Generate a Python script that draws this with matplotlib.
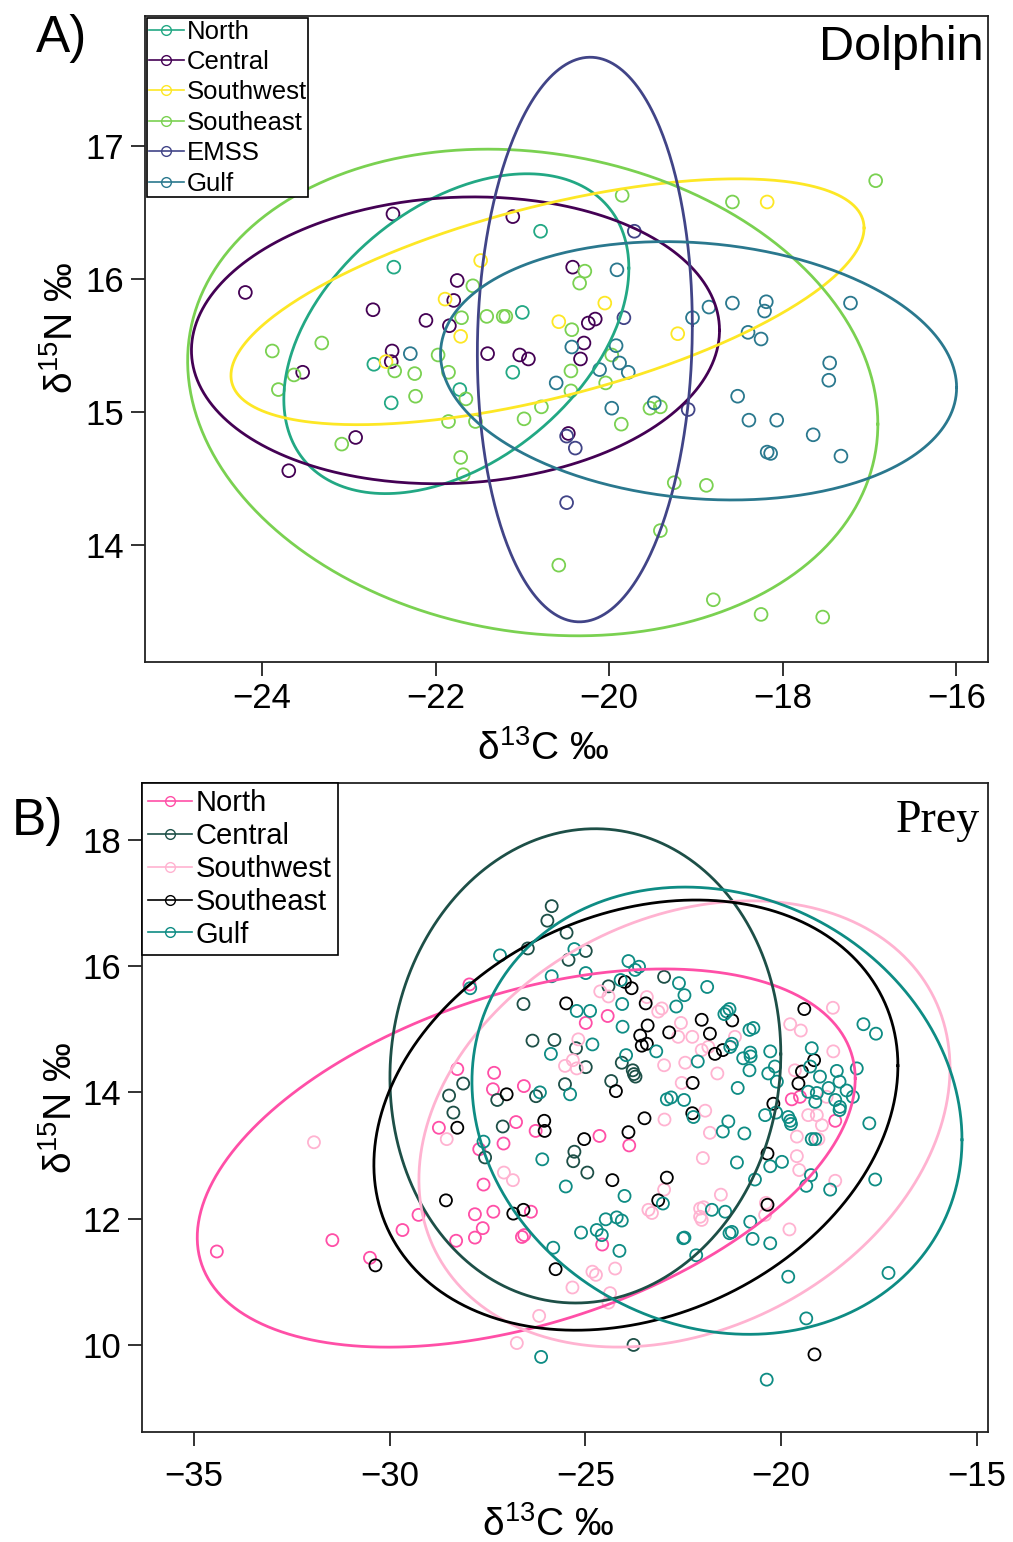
import numpy as np
import matplotlib
matplotlib.use('Agg')
import matplotlib.pyplot as plt
from matplotlib.lines import Line2D

plt.rcParams['font.family'] = ['Liberation Sans', 'DejaVu Sans']
plt.rcParams['mathtext.fontset'] = 'custom'
plt.rcParams['mathtext.rm'] = 'Liberation Sans'
plt.rcParams['mathtext.default'] = 'rm'

# ---------------- Panel A: Dolphin ----------------
A_groups = ['North', 'Central', 'Southwest', 'Southeast', 'EMSS', 'Gulf']
A_colors = ['#22A884', '#440154', '#FDE725', '#7AD151', '#414487', '#2A788E']

A_north_x = [-20.79, -22.48, -21.00, -22.51, -21.72, -21.11, -22.71]
A_north_y = [16.36, 16.09, 15.75, 15.07, 15.17, 15.30, 15.36]

A_central_x = [-24.19, -22.49, -21.11, -21.75, -21.79, -22.72, -22.11, -20.42, -23.53, -22.50, -22.51,
               -21.40, -21.03, -20.93, -20.24, -20.16, -20.29, -20.33, -22.92, -23.69, -20.47, -21.84]
A_central_y = [15.90, 16.49, 16.47, 15.99, 15.84, 15.77, 15.69, 16.09, 15.30, 15.46, 15.38,
               15.44, 15.43, 15.40, 15.67, 15.70, 15.52, 15.40, 14.81, 14.56, 14.84, 15.65]

A_sw_x = [-21.48, -21.89, -20.58, -20.05, -18.18, -19.21, -21.71, -22.57]
A_sw_y = [16.14, 15.85, 15.68, 15.82, 16.58, 15.59, 15.57, 15.38]

A_se_x = [-16.93, -18.58, -19.85, -20.28, -20.34, -21.57, -21.70, -21.41, -21.22, -21.19, -23.88,
          -23.31, -23.63, -23.81, -23.08, -22.47, -22.24, -22.23, -21.97, -21.85, -21.65, -21.85,
          -21.54, -21.71, -21.68, -20.98, -20.78, -20.44, -20.44, -20.43, -19.97, -20.04, -19.53,
          -19.41, -19.86, -19.25, -18.88, -19.41, -20.58, -18.80, -18.25, -17.54]
A_se_y = [16.74, 16.58, 16.63, 16.06, 15.97, 15.95, 15.71, 15.72, 15.72, 15.72, 15.46,
          15.52, 15.28, 15.17, 14.76, 15.31, 15.29, 15.12, 15.43, 15.30, 15.10, 14.93,
          14.93, 14.66, 14.53, 14.95, 15.04, 15.31, 15.16, 15.62, 15.43, 15.22, 15.03,
          15.04, 14.91, 14.47, 14.45, 14.11, 13.85, 13.59, 13.48, 13.46]

A_emss_x = [-19.71, -19.83, -19.09, -20.39, -20.49, -20.49]
A_emss_y = [16.36, 15.71, 15.02, 14.73, 14.32, 14.82]

A_gulf_x = [-22.29, -19.91, -19.04, -18.85, -18.58, -18.19, -18.21, -17.22, -20.43, -19.92, -19.88,
            -19.78, -20.11, -20.61, -19.97, -19.48, -18.40, -18.25, -17.46, -17.47, -18.52, -18.39,
            -18.07, -17.65, -18.18, -18.14, -17.33]
A_gulf_y = [15.44, 16.07, 15.71, 15.79, 15.82, 15.83, 15.76, 15.82, 15.49, 15.50, 15.37,
            15.30, 15.32, 15.22, 15.03, 15.07, 15.60, 15.55, 15.37, 15.24, 15.12, 14.94,
            14.94, 14.83, 14.70, 14.69, 14.67]

# ellipse: centre x, centre y, half-width x, half-height y, correlation
A_ell_cx = [-21.76, -21.77, -20.71, -20.88, -20.28, -18.97]
A_ell_cy = [15.59, 15.54, 15.83, 15.148, 15.546, 15.311]
A_ell_sx = [1.987, 3.041, 3.646, 3.975, 1.238, 2.972]
A_ell_sy = [1.202, 1.078, 0.924, 1.829, 2.122, 0.971]
A_ell_r = [0.41, 0.07, 0.60, -0.13, 0.05, -0.13]

# ---------------- Panel B: Prey ----------------
B_groups = ['North', 'Central', 'Southwest', 'Southeast', 'Gulf']
B_colors = ['#FF4FA7', '#1D4F47', '#FFB3D1', '#000000', '#0E8C84']

B_north_x = [-27.96, -24.43, -24.99, -28.27, -27.33, -27.36, -26.57, -28.74, -26.77, -19.73, -19.52,
             -18.62, -26.27, -27.71, -27.09, -24.64, -23.88, -27.60, -29.26, -29.67, -27.82, -27.35,
             -27.62, -27.82, -28.30, -26.39, -26.56, -26.62, -24.57, -34.41, -31.46, -30.50]
B_north_y = [15.71, 15.21, 15.10, 14.37, 14.31, 14.05, 14.10, 13.44, 13.53, 13.89, 13.93,
             13.55, 13.39, 13.10, 13.19, 13.31, 13.16, 12.54, 12.06, 11.82, 12.07, 12.11,
             11.85, 11.70, 11.65, 12.11, 11.74, 11.71, 11.59, 11.48, 11.66, 11.38]

B_central_x = [-25.86, -25.97, -25.48, -26.47, -24.99, -25.43, -24.41, -22.99, -26.58, -26.35,
               -25.79, -25.24, -24.99, -23.79, -23.76, -23.72, -28.12, -28.48, -28.37, -27.25,
               -26.26, -25.52, -24.34, -27.11, -27.56, -25.28, -25.31, -24.95, -23.77, -24.07]
B_central_y = [16.95, 16.72, 16.53, 16.28, 16.24, 16.10, 15.68, 15.83, 15.40, 14.82,
               14.83, 14.70, 14.40, 14.35, 14.29, 14.25, 14.14, 13.95, 13.68, 13.88,
               13.94, 14.13, 14.18, 13.46, 12.97, 13.06, 12.91, 12.73, 10.00, 14.47]

B_sw_x = [-24.62, -24.41, -23.43, -23.05, -23.14, -22.56, -22.63, -25.18, -25.32, -25.52,
          -25.22, -22.99, -22.45, -22.54, -22.98, -18.68, -19.77, -19.50, -22.27, -21.18,
          -21.86, -22.03, -18.67, -21.63, -19.65, -18.84, -21.94, -19.31, -19.09, -18.96,
          -21.82, -19.60, -19.05, -22.00, -19.60, -19.54, -18.62, -21.54, -20.39, -20.41,
          -22.07, -21.98, -22.03, -22.07, -19.79, -28.54, -27.08, -26.85, -22.99, -23.39,
          -23.30, -24.82, -24.73, -24.24, -25.33, -24.37, -24.41, -26.18, -26.75, -31.93]
B_sw_y = [15.60, 15.52, 15.51, 15.33, 15.28, 15.10, 14.88, 14.84, 14.51, 14.42,
          14.38, 14.43, 14.47, 14.15, 13.57, 15.34, 15.08, 14.98, 14.88, 14.88,
          14.72, 14.67, 14.65, 14.30, 14.35, 13.93, 13.71, 13.64, 13.64, 13.48,
          13.36, 13.30, 13.26, 12.96, 12.99, 12.77, 12.60, 12.38, 12.25, 12.06,
          12.16, 12.18, 11.98, 12.03, 11.83, 13.26, 12.73, 12.61, 12.46, 12.14,
          12.09, 11.16, 11.11, 11.21, 10.91, 10.82, 10.67, 10.46, 10.03, 13.21]

B_se_x = [-23.99, -23.82, -25.49, -23.46, -23.41, -23.60, -22.86, -23.56, -23.43, -27.01,
          -24.22, -28.27, -26.05, -26.04, -23.49, -21.25, -22.03, -21.82, -19.41, -21.49,
          -21.69, -19.16, -19.47, -19.56, -22.26, -20.20, -22.27, -20.35, -20.35, -19.15,
          -25.03, -23.90, -24.31, -22.92, -23.14, -28.56, -26.84, -26.58, -25.76, -30.36]
B_se_y = [15.75, 15.65, 15.41, 15.41, 15.06, 14.90, 14.95, 14.74, 14.77, 13.97,
          14.02, 13.44, 13.55, 13.39, 13.59, 15.14, 15.15, 14.93, 15.32, 14.67,
          14.61, 14.51, 14.33, 14.14, 14.15, 13.82, 13.67, 13.03, 12.22, 9.85,
          13.26, 13.37, 12.61, 12.65, 12.29, 12.29, 12.08, 12.14, 11.20, 11.26]

B_gulf_x = [-25.28, -27.18, -27.94, -25.86, -24.99, -23.90, -23.63, -23.73, -24.10, -22.61,
            -22.47, -25.22, -24.88, -24.06, -22.68, -24.05, -24.82, -25.88, -23.19, -23.96,
            -26.16, -25.39, -22.92, -22.81, -22.48, -21.89, -21.39, -21.32, -21.45, -20.81,
            -20.71, -17.90, -17.58, -21.26, -21.30, -22.13, -20.79, -20.78, -20.97, -20.28,
            -19.22, -19.26, -20.81, -20.16, -20.33, -20.11, -19.01, -18.58, -18.07, -18.51,
            -18.79, -18.33, -18.17, -19.31, -19.09, -19.13, -18.62, -18.50, -18.51, -21.11,
            -22.24, -21.35, -20.41, -20.13, -19.82, -19.77, -19.75, -17.75, -21.49, -20.94,
            -19.22, -19.13, -21.13, -20.28, -19.98, -20.67, -19.24, -19.36, -18.75, -17.60,
            -21.77, -21.43, -20.79, -21.26, -21.32, -22.47, -20.73, -20.28, -22.17, -19.82,
            -17.26, -19.36, -20.37, -27.60, -26.10, -25.50, -24.00, -23.02, -24.48, -24.20,
            -24.07, -25.11, -24.71, -24.58, -22.50, -25.82, -24.13, -26.13]
B_gulf_y = [16.27, 16.17, 15.65, 15.84, 15.89, 16.08, 15.99, 15.94, 15.78, 15.73,
            15.54, 15.29, 15.29, 15.40, 15.36, 15.04, 14.76, 14.61, 14.65, 14.59,
            14.00, 13.97, 13.89, 13.92, 13.88, 15.67, 15.28, 15.32, 15.24, 14.99,
            15.02, 15.08, 14.93, 14.77, 14.72, 14.49, 14.63, 14.57, 14.54, 14.65,
            14.70, 14.41, 14.35, 14.41, 14.30, 14.17, 14.25, 14.34, 14.38, 14.17,
            14.07, 14.03, 13.93, 14.01, 13.99, 13.85, 13.88, 13.77, 13.72, 14.07,
            13.61, 13.54, 13.64, 13.68, 13.61, 13.55, 13.50, 13.51, 13.38, 13.35,
            13.26, 13.26, 12.89, 12.83, 12.90, 12.62, 12.69, 12.52, 12.46, 12.62,
            12.14, 12.11, 11.95, 11.79, 11.77, 11.70, 11.68, 11.61, 11.42, 11.08,
            11.14, 10.42, 9.45, 13.22, 12.94, 12.51, 12.36, 12.24, 11.99, 12.02,
            11.97, 11.78, 11.82, 11.74, 11.69, 11.54, 11.49, 9.81]

B_ell_cx = [-26.51, -25.00, -22.47, -23.71, -21.64]
B_ell_cy = [12.96, 14.42, 13.50, 13.64, 13.71]
B_ell_sx = [8.40, 4.99, 6.78, 6.69, 6.256]
B_ell_sy = [2.995, 3.756, 3.534, 3.407, 3.542]
B_ell_r = [0.42, 0.05, 0.25, 0.23, -0.13]

A_xticks = [-24, -22, -20, -18, -16]
A_yticks = [14, 15, 16, 17]
B_xticks = [-35, -30, -25, -20, -15]
B_yticks = [10, 12, 14, 16, 18]


def draw_ellipse(ax, cx, cy, sx, sy, r, color):
    t = np.linspace(0, 2 * np.pi, 400)
    x = cx + sx * np.cos(t)
    y = cy + sy * (r * np.cos(t) + np.sqrt(1 - r * r) * np.sin(t))
    ax.plot(x, y, color=color, lw=2.0, zorder=3)


def style_axes(ax, xticks, yticks, xpad):
    for sp in ax.spines.values():
        sp.set_linewidth(1.3)
        sp.set_color('#222222')
    ax.set_xticks(xticks)
    ax.set_yticks(yticks)
    ax.tick_params(axis='both', direction='out', length=10, width=1.3,
                   labelsize=25, pad=5, color='#222222')
    ax.tick_params(axis='x', pad=xpad)


fig = plt.figure(figsize=(10.13, 15.42), dpi=100)

# ---- Panel A
axA = fig.add_axes([0.1428, 0.5705, 0.8322, 0.4193])
A_data = [(A_north_x, A_north_y), (A_central_x, A_central_y), (A_sw_x, A_sw_y),
          (A_se_x, A_se_y), (A_emss_x, A_emss_y), (A_gulf_x, A_gulf_y)]
for (xs, ys), c in zip(A_data, A_colors):
    axA.scatter(xs, ys, s=85, facecolors='none', edgecolors=c, linewidths=1.3, zorder=2)
for i, c in enumerate(A_colors):
    draw_ellipse(axA, A_ell_cx[i], A_ell_cy[i], A_ell_sx[i], A_ell_sy[i], A_ell_r[i], c)
axA.set_xlim(-25.35, -15.64)
axA.set_ylim(13.12, 17.98)
style_axes(axA, A_xticks, A_yticks, 4)
axA.set_xlabel('δ$^{13}$C ‰', fontsize=28)
axA.set_ylabel('δ$^{15}$N ‰', fontsize=28)
axA.xaxis.set_label_coords(0.473, -0.105)
axA.yaxis.set_label_coords(-0.076, 0.517)
axA.text(0.995, 0.985, 'Dolphin', transform=axA.transAxes, ha='right', va='top', fontsize=35)
hA = [Line2D([0], [0], color=c, marker='o', mfc='none', mec=c, ms=7, lw=1.2) for c in A_colors]
legA = axA.legend(hA, A_groups, loc='upper left', bbox_to_anchor=(0.0, 1.0), borderaxespad=0.1,
                  fontsize=18.5, frameon=True, fancybox=False, framealpha=1, edgecolor='black',
                  borderpad=0.05, labelspacing=0.25, handlelength=1.4, handletextpad=0.1)
legA.get_frame().set_linewidth(1.2)
fig.text(0.061, 0.975, 'A)', fontsize=37, ha='center', va='center')

# ---- Panel B
axB = fig.add_axes([0.1402, 0.0713, 0.8351, 0.4209])
B_data = [(B_north_x, B_north_y), (B_central_x, B_central_y), (B_sw_x, B_sw_y),
          (B_se_x, B_se_y), (B_gulf_x, B_gulf_y)]
for (xs, ys), c in zip(B_data, B_colors):
    axB.scatter(xs, ys, s=75, facecolors='none', edgecolors=c, linewidths=1.3, zorder=2)
for i, c in enumerate(B_colors):
    draw_ellipse(axB, B_ell_cx[i], B_ell_cy[i], B_ell_sx[i], B_ell_sy[i], B_ell_r[i], c)
axB.set_xlim(-36.32, -14.72)
axB.set_ylim(8.62, 18.90)
style_axes(axB, B_xticks, B_yticks, 10)
axB.set_xlabel('δ$^{13}$C ‰', fontsize=28)
axB.set_ylabel('δ$^{15}$N ‰', fontsize=28)
axB.xaxis.set_label_coords(0.480, -0.114)
axB.yaxis.set_label_coords(-0.074, 0.50)
axB.text(0.99, 0.975, 'Prey', transform=axB.transAxes, ha='right', va='top', fontsize=33,
         family='Liberation Serif')
hB = [Line2D([0], [0], color=c, marker='o', mfc='none', mec=c, ms=7, lw=1.2) for c in B_colors]
legB = axB.legend(hB, B_groups, loc='upper left', bbox_to_anchor=(0.0, 1.0), borderaxespad=0.0,
                  fontsize=21, frameon=True, fancybox=False, framealpha=1, edgecolor='black',
                  borderpad=0.2, labelspacing=0.17, handlelength=1.5, handletextpad=0.15)
legB.get_frame().set_linewidth(1.2)
fig.text(0.037, 0.467, 'B)', fontsize=37, ha='center', va='center')

fig.savefig('out.png', dpi=100)
